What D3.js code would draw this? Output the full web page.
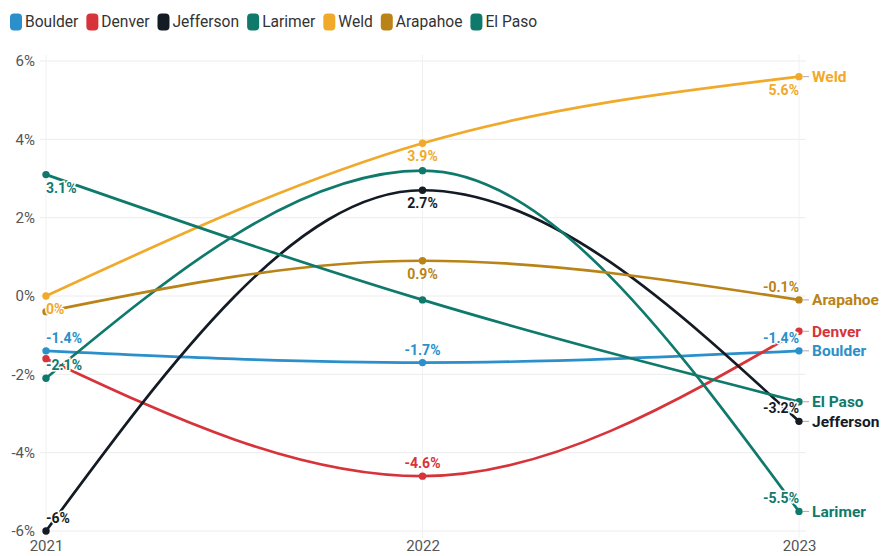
<!DOCTYPE html>
<html><head><meta charset="utf-8">
<script src="https://cdn.jsdelivr.net/npm/d3@7"></script>
<style>
body{margin:0;background:#fff;font-family:Roboto,"Noto Sans",sans-serif;}
svg{display:block}
</style></head><body>
<svg id="c" width="883" height="556"></svg>
<script>
const years = ["2021", "2022", "2023"];
const seriesNames = ["Boulder", "Denver", "Jefferson", "Larimer", "Weld", "Arapahoe", "El Paso"];
const boulder = [-1.4, -1.7, -1.4];
const denver = [-1.6, -4.6, -0.9];
const jefferson = [-6, 2.7, -3.2];
const larimer = [-2.1, 3.2, -5.5];
const weld = [0, 3.9, 5.6];
const arapahoe = [-0.4, 0.9, -0.1];
const elPaso = [3.1, -0.1, -2.7];
const yTicks = [-6, -4, -2, 0, 2, 4, 6];

const colors = ["#2a8fca", "#d6343a", "#141b24", "#0f7a6c", "#f1a92a", "#b98317", "#0f7a6c"];
const values = [boulder, denver, jefferson, larimer, weld, arapahoe, elPaso];
// label placement per point: null = hidden
const labelPos = [
  ["tr", "t", "tl"],
  [null, "t", null],
  ["tr", "b", "tl"],
  ["tr", null, "tl"],
  ["br", "b", "bl"],
  [null, "b", "tl"],
  ["br", null, null]
];

const svg = d3.select("#c");
const x = d3.scalePoint().domain(years).range([46, 799]);
const y = d3.scaleLinear().domain([-6, 6]).range([531, 61]);

// grid
const g = svg.append("g");
g.selectAll("line.h").data(yTicks).join("line")
  .attr("x1", 40).attr("x2", 806)
  .attr("y1", d => y(d)).attr("y2", d => y(d))
  .attr("stroke", "#ececec").attr("stroke-width", 1);
g.selectAll("line.v").data(years).join("line")
  .attr("x1", d => x(d)).attr("x2", d => x(d))
  .attr("y1", 55).attr("y2", 538)
  .attr("stroke", "#f0f0f0").attr("stroke-width", 1);

// axes
const yAxis = d3.axisLeft(y).tickValues(yTicks).tickFormat(d => d + "%").tickSize(0).tickPadding(0);
const ya = svg.append("g").attr("transform", "translate(35,0)").call(yAxis);
ya.select(".domain").remove();
ya.selectAll("text").attr("fill", "#555").style("font-size", "15px").style("font-family", "Roboto");

const xAxis = d3.axisBottom(x).tickSize(0).tickPadding(0);
const xa = svg.append("g").attr("transform", "translate(0,538)").call(xAxis);
xa.select(".domain").remove();
xa.selectAll("text").attr("fill", "#555").style("font-size", "15px").style("font-family", "Roboto").attr("dy", "0.85em");

const line = d3.line().x((d, i) => x(years[i])).y(d => y(d)).curve(d3.curveMonotoneX);

// lines
values.forEach((vals, s) => {
  svg.append("path").attr("d", line(vals)).attr("fill", "none")
    .attr("stroke", colors[s]).attr("stroke-width", 2.7).attr("stroke-linecap", "round");
});

// points and connectors
values.forEach((vals, s) => {
  const last = vals[vals.length - 1];
  svg.append("line").attr("x1", x("2023") + 4).attr("x2", x("2023") + 10)
    .attr("y1", y(last)).attr("y2", y(last)).attr("stroke", "#aaa").attr("stroke-width", 1);
  svg.selectAll(null).data(vals).join("circle")
    .attr("cx", (d, i) => x(years[i])).attr("cy", d => y(d)).attr("r", 3.7)
    .attr("fill", colors[s]);
});

// data labels
const fmt = v => (Math.round(v * 10) / 10) + "%";
values.forEach((vals, s) => {
  vals.forEach((v, i) => {
    const p = labelPos[s][i];
    if (!p) return;
    const px = x(years[i]), py = y(v);
    let anchor = "middle";
    if (p.includes("r")) anchor = "start";
    if (p.includes("l")) anchor = "end";
    const dy = p.startsWith("t") ? -8 : 18;
    svg.append("text").attr("x", px).attr("y", py + dy)
      .attr("text-anchor", anchor).attr("fill", colors[s])
      .attr("stroke", "#fff").attr("stroke-width", 3).attr("paint-order", "stroke")
      .style("font-size", "14px").style("font-weight", "700").style("font-family", "Roboto")
      .text(fmt(v));
  });
});

// end labels
values.forEach((vals, s) => {
  const last = vals[vals.length - 1];
  svg.append("text").attr("x", 812).attr("y", y(last)).attr("dy", "0.35em")
    .attr("fill", colors[s]).style("font-size", "15.5px").style("font-weight", "700")
    .style("font-family", "Roboto").text(seriesNames[s]);
});

// legend
let lx = 10;
const leg = svg.append("g");
seriesNames.forEach((n, s) => {
  leg.append("rect").attr("x", lx).attr("y", 13.5).attr("width", 12).attr("height", 17)
    .attr("rx", 4).attr("fill", colors[s]);
  const t = leg.append("text").attr("x", lx + 15).attr("y", 22).attr("dy", "0.35em")
    .attr("fill", "#333").style("font-size", "15.6px").style("font-family", "Roboto").text(n);
  lx += 15 + t.node().getComputedTextLength() + 8;
});
</script>
</body></html>
